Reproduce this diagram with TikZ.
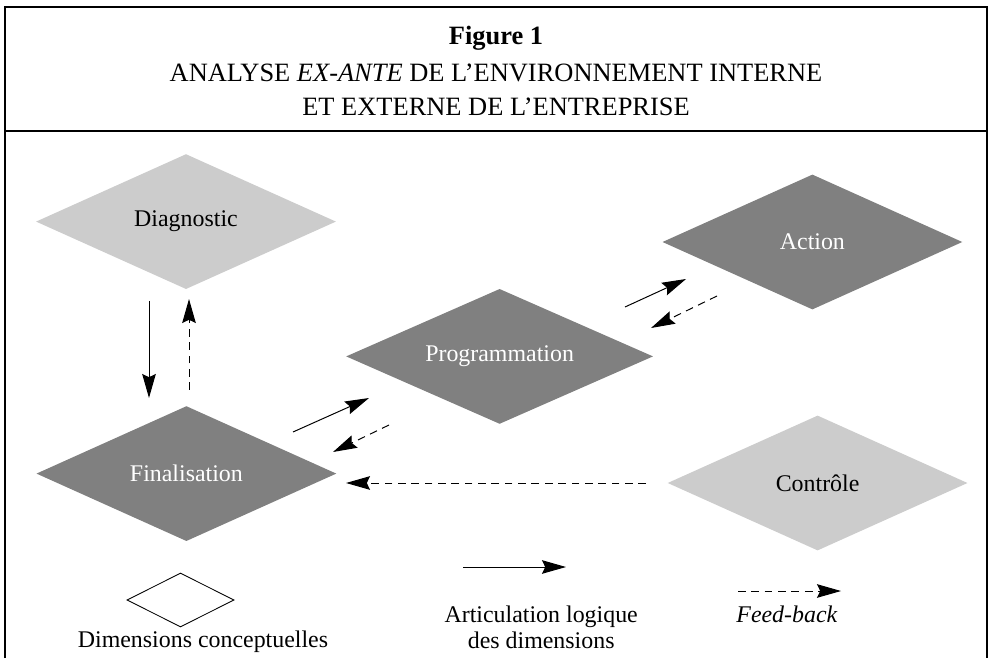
\documentclass[tikz,border=0pt]{standalone}
\usepackage{fontspec}
\setmainfont{Liberation Serif}
\usetikzlibrary{arrows.meta,shapes.geometric}
\definecolor{GC}{RGB}{204, 204, 204}
\definecolor{GF}{RGB}{128, 128, 128}
\tikzset{
	losange/.style={diamond, aspect=2.2, inner sep=0pt, minimum width=7.5cm, minimum height=3.375cm},
	clair/.style={losange, fill=GC, text=black},
	fonce/.style={losange, fill=GF, text=white},
	fleche/.style={line width=0.7pt, -{Stealth[length=0.6cm, width=0.34cm, inset=0.08cm]}},
	retour/.style={fleche, dash pattern=on 5.5pt off 4pt},
	cadre/.style={line width=1.1pt},
	entete/.style={font=\fontsize{18.8}{22}\selectfont}
}
\begin{document}
\begin{tikzpicture}[every node/.style={font=\fontsize{17}{20}\selectfont}]
	\useasboundingbox (0,0) rectangle (24.775,16.45);

	%Cadre et titre
	\draw[cadre] (0.125,0) -- (0.125,16.275) -- (24.675,16.275) -- (24.675,0);
	\draw[cadre] (0.125,13.175) -- (24.675,13.175);
	\node[entete, font=\fontsize{18.8}{22}\selectfont\bfseries] (titre) at (12.4,15.5) {Figure 1};
	\node[entete] (ligne1) at (12.4,14.625) {ANALYSE \textit{EX-ANTE} DE L’ENVIRONNEMENT INTERNE};
	\node[entete] (ligne2) at (12.4,13.775) {ET EXTERNE DE L’ENTREPRISE};

	%Les cinq dimensions
	\node[clair] (diag) at (4.65,10.91) {Diagnostic};
	\node[fonce] (fin) at (4.66,4.61) {Finalisation};
	\node[fonce, minimum width=7.675cm] (prog) at (12.49,7.54) {Programmation};
	\node[fonce] (act) at (20.31,10.4) {Action};
	\node[clair] (ctrl) at (20.44,4.375) {Contrôle};

	%Bouts des fleches
	\coordinate (a1) at (3.725,8.925);  \coordinate (b1) at (3.725,6.5);
	\coordinate (a2) at (4.725,6.7);    \coordinate (b2) at (4.725,8.975);
	\coordinate (a3) at (7.325,5.65);   \coordinate (b3) at (9.225,6.5);
	\coordinate (a4) at (9.725,5.825);  \coordinate (b4) at (8.325,5.15);
	\coordinate (a5) at (15.625,8.775); \coordinate (b5) at (17.15,9.475);
	\coordinate (a6) at (17.925,9.05);  \coordinate (b6) at (16.275,8.25);
	\coordinate (a7) at (16.15,4.375);  \coordinate (b7) at (8.65,4.375);

	%Articulation logique (trait plein) et feed-back (tirets)
	\draw[fleche] (a1) -- (b1);
	\draw[retour] (a2) -- (b2);
	\draw[fleche] (a3) -- (b3);
	\draw[retour] (a4) -- (b4);
	\draw[fleche] (a5) -- (b5);
	\draw[retour] (a6) -- (b6);
	\draw[retour] (a7) -- (b7);

	%Legende
	\node[diamond, draw, aspect=2, inner sep=0pt, minimum width=2.675cm, minimum height=1.35cm, line width=0.6pt] (leg) at (4.5125,1.45) {};
	\node (legtxt) at (5.075,0.4) {Dimensions conceptuelles};
	\coordinate (l1) at (11.575,2.275); \coordinate (l2) at (14.15,2.275);
	\draw[fleche] (l1) -- (l2);
	\node[align=center] (arttxt) at (13.53,0.775) {Articulation logique\\[-0.05cm]des dimensions};
	\coordinate (l3) at (18.45,1.675); \coordinate (l4) at (21.025,1.675);
	\draw[retour] (l3) -- (l4);
	\node (fbtxt) at (19.675,1.1) {\textit{Feed-back}};
\end{tikzpicture}
\end{document}
